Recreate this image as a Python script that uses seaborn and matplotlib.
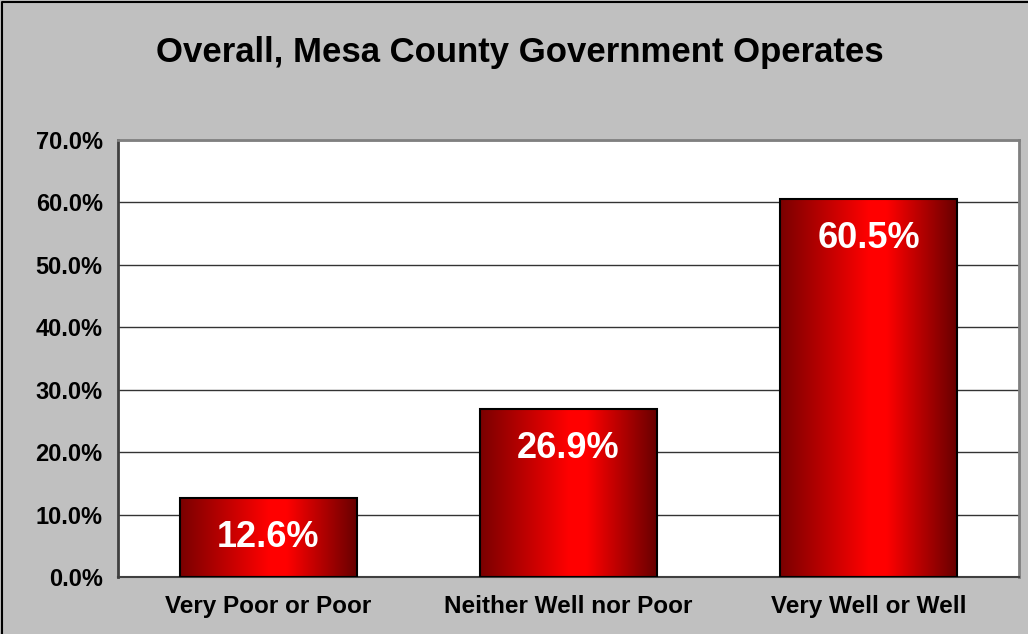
import numpy as np
import pandas as pd
import matplotlib
matplotlib.use("Agg")
import matplotlib.pyplot as plt
import seaborn as sns
from matplotlib.colors import LinearSegmentedColormap
from matplotlib.lines import Line2D
from matplotlib.ticker import FuncFormatter, FixedLocator

# chart data
categories = ["Very Poor or Poor", "Neither Well nor Poor", "Very Well or Well"]
percentages = [12.6, 26.9, 60.5]
y_ticks = [0, 10, 20, 30, 40, 50, 60, 70]
title = "Overall, Mesa County Government Operates"

df = pd.DataFrame({"Category": categories, "Percent": percentages})

sns.set_style("white")
plt.rcParams["font.family"] = ["Liberation Sans", "DejaVu Sans"]
plt.rcParams["text.color"] = "black"
plt.rcParams["xtick.color"] = "black"
plt.rcParams["ytick.color"] = "black"

fig = plt.figure(figsize=(10.28, 6.34), dpi=100, facecolor="#C0C0C0")
ax = fig.add_axes([0.1148, 0.0899, 0.8765, 0.6893])
ax.set_facecolor("white")

sns.barplot(data=df, x="Category", y="Percent", ax=ax, width=0.59,
            color="#C00000", edgecolor="black", linewidth=1.5, zorder=3)

# horizontal gradient inside each bar
grad_cmap = LinearSegmentedColormap.from_list(
    "bar_red", [(0.0, "#7A0000"), (0.5, "#FF0000"), (0.6, "#FF0000"), (1.0, "#660000")])
grad = np.linspace(0, 1, 256).reshape(1, -1)
for patch in ax.patches:
    x0, y0 = patch.get_x(), patch.get_y()
    w, h = patch.get_width(), patch.get_height()
    im = ax.imshow(grad, cmap=grad_cmap, aspect="auto",
                   extent=[x0, x0 + w, y0, y0 + h], zorder=2.5)
    im.set_clip_path(patch)
    patch.set_facecolor("none")
ax.set_xlim(-0.5, 2.5)
ax.set_ylim(0, 70)

# value labels
for i, v in enumerate(percentages):
    ax.text(i, v - 6.3, f"{v:.1f}%", ha="center", va="center",
            color="white", fontsize=26, fontweight="bold", zorder=4)

# grid and axes
ax.yaxis.set_major_locator(FixedLocator(y_ticks))
ax.yaxis.set_major_formatter(FuncFormatter(lambda v, p: f"{v:.1f}%"))
ax.grid(axis="y", color="#333333", linewidth=1.0, zorder=1)
ax.set_axisbelow(True)
ax.set_xlabel("")
ax.set_ylabel("")

ax.tick_params(axis="y", which="major", direction="out", length=8,
               width=1.2, color="#404040", labelsize=17, pad=3)
ax.tick_params(axis="x", which="major", length=0, labelsize=17.5, pad=13)
ax.set_xticks([-0.5, 0.5, 1.5, 2.5], minor=True)
ax.tick_params(axis="x", which="minor", direction="out", length=8,
               width=1.2, color="#404040")
for lbl in ax.get_xticklabels() + ax.get_yticklabels():
    lbl.set_fontweight("bold")

ax.spines["left"].set_color("#404040")
ax.spines["left"].set_linewidth(2)
ax.spines["bottom"].set_color("#404040")
ax.spines["bottom"].set_linewidth(1.5)
ax.spines["top"].set_color("#808080")
ax.spines["top"].set_linewidth(2)
ax.spines["right"].set_color("#808080")
ax.spines["right"].set_linewidth(2)

fig.text(0.506, 0.917, title, ha="center", va="center",
         fontsize=25, fontweight="bold", color="black")

# outer chart frame (left and top edges visible)
fig.lines.append(Line2D([0.002, 0.002, 1.0], [0.0, 0.997, 0.997],
                        transform=fig.transFigure, color="black", linewidth=1.5))

fig.savefig("out.png", dpi=100, facecolor=fig.get_facecolor())
